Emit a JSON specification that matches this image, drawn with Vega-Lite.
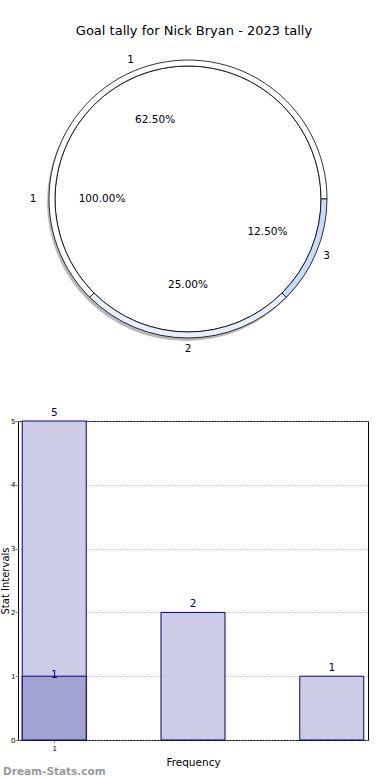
{
  "$schema": "https://vega.github.io/schema/vega-lite/v6.json",
  "padding": {"left": 0, "top": 25, "right": 10, "bottom": 0},
  "background": "white",
  "config": {
    "font": "DejaVu Sans",
    "text": {"font": "DejaVu Sans"},
    "title": {"font": "DejaVu Sans", "fontWeight": "normal", "color": "black"}
  },
  "datasets": {
    "outer": [
      {"cat": "1", "count": 5, "pct": "62.50%"},
      {"cat": "2", "count": 2, "pct": "25.00%"},
      {"cat": "3", "count": 1, "pct": "12.50%"}
    ],
    "inner": [
      {"cat": "1", "count": 1, "pct": "100.00%"}
    ],
    "bars": [
      {"x": 1, "v": 5},
      {"x": 2, "v": 2},
      {"x": 3, "v": 1}
    ],
    "overlay": [
      {"x": 1, "v": 1}
    ]
  },
  "bounds": "flush",
  "spacing": 92,
  "vconcat": [
    {
      "width": 340,
      "height": 260,
      "view": {"stroke": null},
      "title": {"text": "Goal tally for Nick Bryan - 2023 tally", "fontSize": 13, "frame": "group", "offset": 17, "dx": 6, "anchor": "middle"},
      "layer": [
        {
          "data": {"name": "inner"},
          "layer": [
            {
              "mark": {"type": "arc", "radius": 139, "fill": "#888888", "opacity": 0.6, "xOffset": -2, "yOffset": 3},
              "encoding": {
                "theta": {"field": "count", "type": "quantitative", "stack": true, "scale": {"range": [1.5708, -4.7124]}}
              }
            },
            {
              "mark": {"type": "arc", "radius": 133, "fill": "white", "stroke": "black", "strokeWidth": 0.8},
              "encoding": {
                "theta": {"field": "count", "type": "quantitative", "stack": true}
              }
            },
            {
              "mark": {"type": "text", "radius": 155, "fontSize": 10.5, "color": "black"},
              "encoding": {
                "theta": {"field": "count", "type": "quantitative", "stack": true},
                "text": {"field": "cat"}
              }
            },
            {
              "mark": {"type": "text", "radius": 86, "fontSize": 10.5, "color": "black"},
              "encoding": {
                "theta": {"field": "count", "type": "quantitative", "stack": true},
                "text": {"field": "pct"}
              }
            }
          ]
        },
        {
          "data": {"name": "outer"},
          "layer": [
            {
              "mark": {"type": "arc", "radius": 139, "radius2": 133, "stroke": "black", "strokeWidth": 0.8},
              "encoding": {
                "theta": {"field": "count", "type": "quantitative", "stack": true, "scale": {"range": [1.5708, -4.7124]}},
                "order": {"field": "cat"},
                "color": {"field": "cat", "type": "nominal", "legend": null, "scale": {"domain": ["1", "2", "3"], "range": ["#ffffff", "#e8eefc", "#c6dbff"]}}
              }
            },
            {
              "mark": {"type": "text", "radius": 150, "fontSize": 10.5, "color": "black"},
              "encoding": {
                "theta": {"field": "count", "type": "quantitative", "stack": true},
                "order": {"field": "cat"},
                "text": {"field": "cat"}
              }
            },
            {
              "mark": {"type": "text", "radius": 86, "fontSize": 10.5, "color": "black"},
              "encoding": {
                "theta": {"field": "count", "type": "quantitative", "stack": true},
                "order": {"field": "cat"},
                "text": {"field": "pct"}
              }
            }
          ]
        }
      ],
      "resolve": {"scale": {"theta": "independent", "color": "independent"}}
    },
    {
      "width": 350,
      "height": 319,
      "view": {"stroke": "black", "strokeWidth": 1},
      "title": {"text": "Dream-Stats.com", "orient": "bottom", "anchor": "start", "frame": "group", "offset": -1, "dx": -15, "fontSize": 10.5, "fontWeight": "bold", "color": "#9a9a9a"},
      "layer": [
        {
          "data": {"name": "bars"},
          "mark": {"type": "bar", "width": 64, "fill": "#ccccE6", "stroke": "#000080", "strokeWidth": 1},
          "encoding": {
            "x": {"field": "x", "type": "quantitative", "scale": {"domain": [0.775, 3.225], "nice": false, "zero": false},
              "axis": {"values": [1], "format": "d", "title": "Frequency", "titleFontSize": 10.5, "titleFontWeight": "normal", "titlePadding": 6, "labelFontSize": 7, "labelColor": "black", "tickSize": 3, "tickColor": "#888888", "labelPadding": 1, "domain": false, "grid": true, "gridDash": [1, 2], "gridColor": "#a0a0a0", "titleColor": "black"}},
            "y": {"field": "v", "type": "quantitative", "scale": {"domain": [0, 5], "nice": false},
              "axis": {"values": [0, 1, 2, 3, 4, 5], "format": "d", "title": "Stat Intervals", "titleFontSize": 10, "titleFontWeight": "normal", "titlePadding": 0, "labelFontSize": 7, "labelColor": "black", "tickSize": 3, "tickColor": "#888888", "labelPadding": 0, "domain": false, "grid": true, "gridDash": [1, 2], "gridColor": "#a0a0a0", "titleColor": "black"}}
          }
        },
        {
          "data": {"name": "bars"},
          "mark": {"type": "text", "baseline": "bottom", "dy": -3, "fontSize": 10.5, "color": "#000080"},
          "encoding": {
            "x": {"field": "x", "type": "quantitative"},
            "y": {"field": "v", "type": "quantitative"},
            "text": {"field": "v", "type": "quantitative"}
          }
        },
        {
          "data": {"name": "overlay"},
          "mark": {"type": "bar", "width": 64, "fill": "#a3a3d1", "stroke": "#000080", "strokeWidth": 1},
          "encoding": {
            "x": {"field": "x", "type": "quantitative"},
            "y": {"field": "v", "type": "quantitative"}
          }
        },
        {
          "data": {"name": "overlay"},
          "mark": {"type": "text", "baseline": "middle", "dy": -1, "fontSize": 10.5, "color": "#000080"},
          "encoding": {
            "x": {"field": "x", "type": "quantitative"},
            "y": {"field": "v", "type": "quantitative"},
            "text": {"field": "v", "type": "quantitative"}
          }
        }
      ]
    }
  ]
}
